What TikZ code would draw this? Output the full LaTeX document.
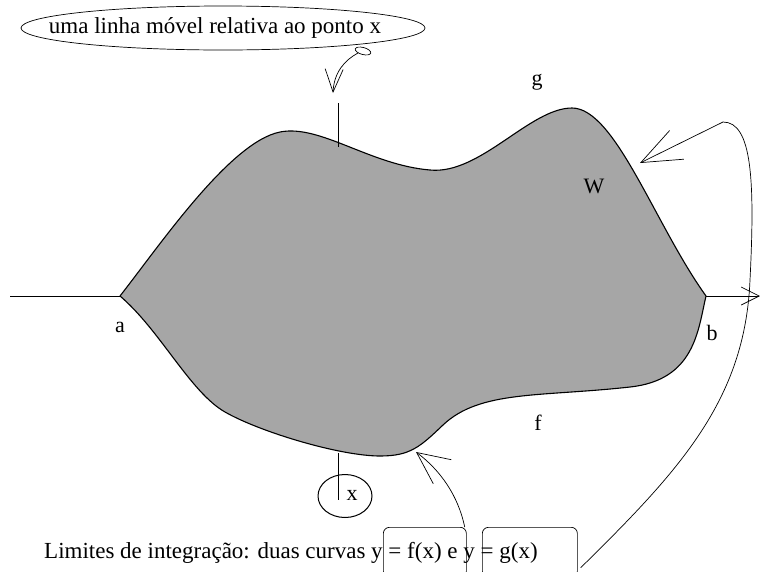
\documentclass[tikz,border=0pt]{standalone}
\usepackage{fontspec}
\setmainfont{Liberation Serif}
\usetikzlibrary{arrows.meta,shapes.geometric}
\begin{document}
\begin{tikzpicture}[x=1pt,y=-1pt,
  lbl/.style={font=\fontsize{22}{25}\selectfont, inner sep=0pt},
  txt/.style={font=\fontsize{23}{26}\selectfont, inner sep=0pt},
  thin line/.style={line width=0.7pt},
  region/.style={fill=black!35, draw=black, line width=1.1pt, line join=round},
  barbA/.style={-{Straight Barb[length=23pt,width=18pt,line width=0.7pt]}},
  barbB/.style={-{Straight Barb[length=32pt,width=30pt,line width=0.7pt]}},
  barbC/.style={-{Straight Barb[length=40pt,width=32pt,line width=0.7pt]}},
  barbD/.style={-{Straight Barb[length=18pt,width=18pt,line width=0.7pt]}},
  boxst/.style={draw, rounded corners=6pt, line width=0.7pt}]
\useasboundingbox (0,0) rectangle (760,571);
% axis
\coordinate (L) at (10,296);
\coordinate (a) at (120,296);
\coordinate (b) at (706,296);
\coordinate (R) at (760,296);
\draw[thin line] (L) -- (a);
\draw[thin line, barbD] (b) -- (R);
% region
\path[region] (a) .. controls (160,245) and (230,142) .. (280,132)
  .. controls (320,124) and (370,165) .. (430,170)
  .. controls (480,175) and (530,108) .. (572,108)
  .. controls (615,108) and (655,225) .. (b)
  .. controls (698,330) and (695,380) .. (630,387)
  .. controls (540,397) and (480,390) .. (443,425)
  .. controls (420,447) and (410,456) .. (380,456)
  .. controls (340,456) and (260,432) .. (225,412)
  .. controls (190,392) and (160,330) .. (a) -- cycle;
% moving line
\coordinate (vt1) at (338,103);
\coordinate (vt2) at (338,147);
\coordinate (vb1) at (338,453);
\coordinate (vb2) at (338,500);
\draw[line width=1pt] (vt1) -- (vt2);
\draw[line width=1pt] (vb1) -- (vb2);
% labels
\node[lbl] (g) at (537,82) {g};
\node[lbl] (W) at (594,186) {W};
\node[lbl] (la) at (120,327) {a};
\node[lbl] (lb) at (712,333) {b};
\node[lbl] (f) at (538,423) {f};
% x circle
\node[draw, ellipse, line width=1pt, minimum width=54pt, minimum height=43pt] (xc) at (345,496) {};
\node[lbl] (x) at (352,495) {x};
% callout
\node[draw, ellipse, line width=0.7pt, minimum width=404pt, minimum height=44pt, inner sep=0pt] (call) at (223,28) {};
\node[txt] (calltext) at (215,28) {uma linha móvel relativa ao ponto x};
\coordinate (lp) at (363,51);
\coordinate (c1) at (358,53);
\coordinate (t1) at (333,93);
\draw[thin line, rotate around={-15:(lp)}] (lp) ellipse [x radius=8pt, y radius=3.5pt];
\draw[thin line, barbA] (c1) .. controls (345,60) and (334,72) .. (t1);
% bottom text
\node[txt, anchor=base west] (lim) at (44,558) {Limites de integração: duas curvas y = f(x) e y = g(x)};
\node[boxst, minimum width=83pt, minimum height=50pt, anchor=north west] (box1) at (383,527) {};
\node[boxst, minimum width=95pt, minimum height=50pt, anchor=north west] (box2) at (482,527) {};
% arrows
\coordinate (t2) at (416,452);
\coordinate (t3) at (640,163);
\draw[thin line, barbB] (box1.north east) ++(-2,0) .. controls (458,495) and (440,470) .. (t2);
\draw[thin line, barbC] (box2.south east) ++(3,-10) .. controls (680,470) and (745,400) .. (750,280) .. controls (755,180) and (752,122) .. (723,122) -- (t3);
\end{tikzpicture}
\end{document}
